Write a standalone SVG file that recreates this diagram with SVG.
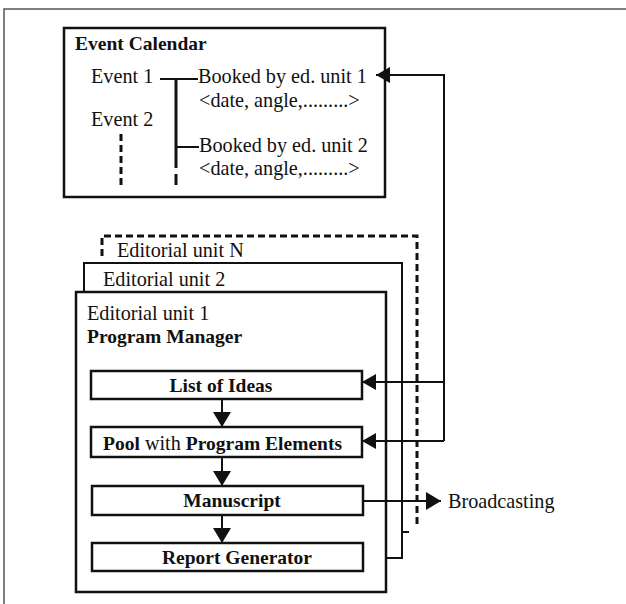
<svg xmlns="http://www.w3.org/2000/svg" width="626" height="604" viewBox="0 0 626 604">
<style>
text{font-family:"Liberation Serif","Times New Roman",serif;font-size:20.2px;fill:#111}
.b{font-weight:bold;font-size:19.5px}
.box{fill:#fff;stroke:#111;stroke-width:2.5}
.ln{fill:none;stroke:#111;stroke-width:2}
.th{fill:none;stroke:#111;stroke-width:3}
.da{fill:none;stroke:#111;stroke-width:3;stroke-dasharray:7 4}
</style>
<defs>
<marker id="ah" viewBox="0 0 14 16" refX="14" refY="8" markerWidth="14" markerHeight="16" markerUnits="userSpaceOnUse" orient="auto">
<path d="M0,0 L14,8 L0,16 Z" fill="#111"/>
</marker>
<marker id="ah2" viewBox="0 0 15 18" refX="15" refY="9" markerWidth="15" markerHeight="18" markerUnits="userSpaceOnUse" orient="auto">
<path d="M0,0 L15,9 L0,18 Z" fill="#111"/>
</marker>
</defs>
<rect width="626" height="604" fill="#fff"/>
<path d="M4,604 V9 H626" fill="none" stroke="#555" stroke-width="1.5"/>

<g id="event-calendar">
<rect class="box" x="64" y="28" width="321" height="169"/>
<text class="b" x="75" y="50">Event Calendar</text>
<text x="91" y="83">Event 1</text>
<text x="91" y="126">Event 2</text>
<text x="198" y="83">Booked by ed. unit 1</text>
<text x="199" y="107">&lt;date, angle,.........&gt;</text>
<text x="199" y="152">Booked by ed. unit 2</text>
<text x="199" y="175">&lt;date, angle,.........&gt;</text>
<path class="ln" d="M160,79 H198 M176,147 H199"/>
<path class="th" d="M176,79 V168 M176,174 V185"/>
<path class="da" d="M121,134 V185"/>
</g>

<g id="unit-n">
<path class="da" d="M102,256 V236 H417 V527"/>
<text x="117" y="257">Editorial unit N</text>
</g>

<g id="unit-2">
<path class="ln" d="M84,292 V263 H402 V558 H363"/>
<path class="ln" d="M402,532 H409"/>
<text x="103" y="286">Editorial unit 2</text>
</g>

<g id="unit-1">
<rect class="box" x="76" y="292" width="310" height="300"/>
<text x="87" y="320">Editorial unit 1</text>
<text class="b" x="87" y="343">Program Manager</text>
</g>

<g id="list-of-ideas">
<rect class="box" x="91" y="371" width="271" height="28"/>
<text class="b" x="221" y="392" text-anchor="middle">List of Ideas</text>
</g>
<g id="pool">
<rect class="box" x="91" y="427" width="271" height="30"/>
<text x="103" y="450"><tspan class="b">Pool</tspan> with <tspan class="b">Program Elements</tspan></text>
</g>
<g id="manuscript">
<rect class="box" x="92" y="486" width="271" height="29"/>
<text class="b" x="232" y="507" text-anchor="middle">Manuscript</text>
</g>
<g id="report-generator">
<rect class="box" x="92" y="543" width="271" height="28"/>
<text class="b" x="237" y="564" text-anchor="middle">Report Generator</text>
</g>
<g id="broadcasting">
<text x="448" y="508">Broadcasting</text>
</g>

<g id="connectors">
<path class="ln" d="M444,441 V75 H376" marker-end="url(#ah)"/>
<path class="ln" d="M444,382 H362" marker-end="url(#ah)"/>
<path class="ln" d="M444,441 H362" marker-end="url(#ah)"/>
<path class="ln" d="M222,399 V427" marker-end="url(#ah2)"/>
<path class="ln" d="M222,457 V486" marker-end="url(#ah2)"/>
<path class="ln" d="M222,515 V543" marker-end="url(#ah2)"/>
<path class="ln" d="M363,501 H441" marker-end="url(#ah2)"/>
</g>
</svg>
